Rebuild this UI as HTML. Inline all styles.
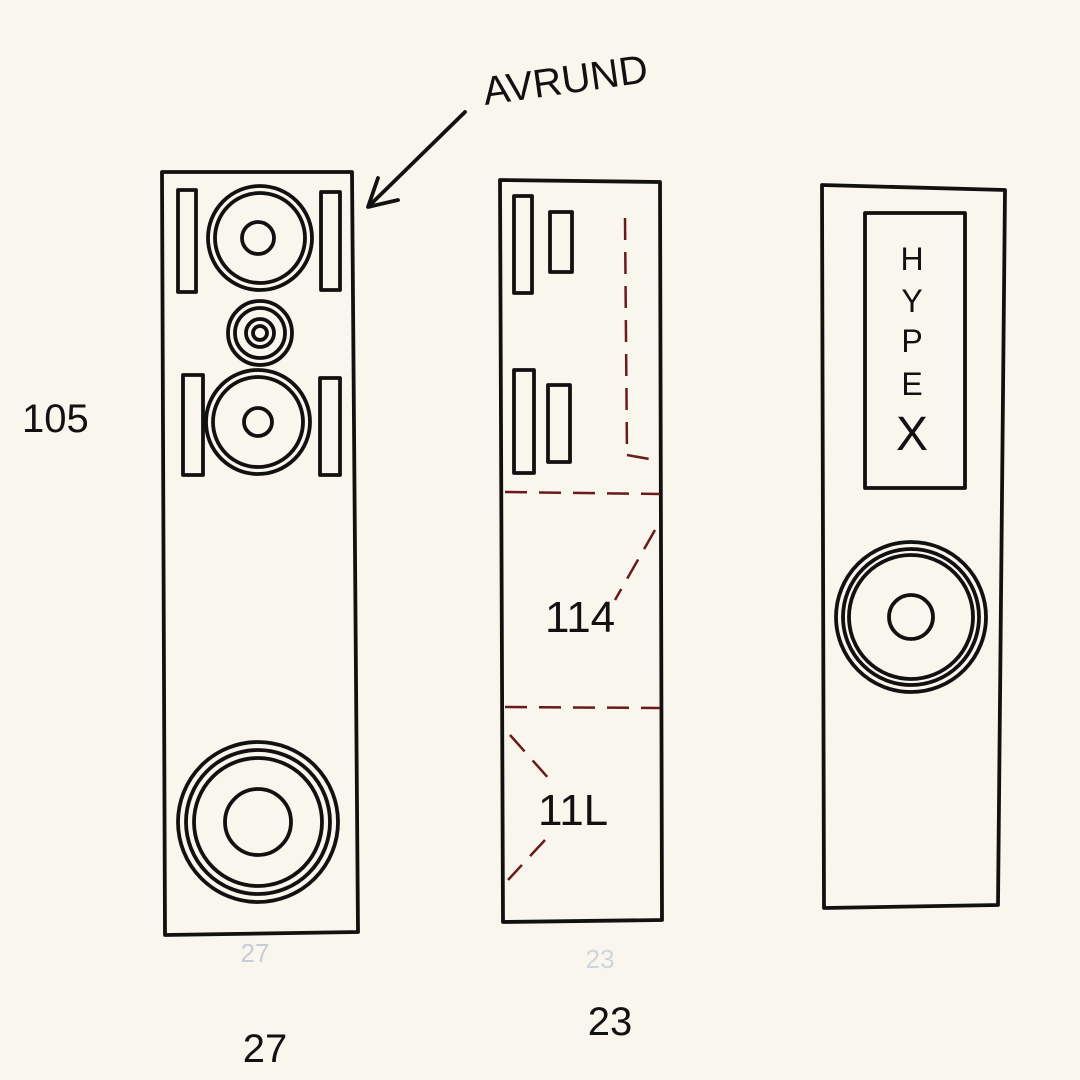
<!DOCTYPE html>
<html><head><meta charset="utf-8"><style>
html,body{margin:0;padding:0;background:#f9f7ed;}
svg{display:block}
text{font-family:"Liberation Sans",sans-serif;fill:#111}
</style></head><body>
<svg width="1080" height="1080" viewBox="0 0 1080 1080" xmlns="http://www.w3.org/2000/svg">
<rect width="1080" height="1080" fill="#f9f7ed"/>
<g fill="none" stroke="#111" stroke-width="3.8" stroke-linejoin="round" stroke-linecap="round">
<polygon points="162,172 352,172 358,932 165,935"/>
<rect x="178" y="190" width="18" height="102"/>
<rect x="321" y="192" width="19" height="98"/>
<circle cx="260" cy="238" r="52"/><circle cx="260" cy="238" r="45"/><circle cx="258" cy="238" r="16"/>
<circle cx="260" cy="333" r="32"/><circle cx="260" cy="333" r="25"/><circle cx="260" cy="333" r="14"/><circle cx="260" cy="333" r="7"/>
<rect x="183" y="375" width="20" height="100"/>
<rect x="320" y="378" width="20" height="97"/>
<circle cx="258" cy="422" r="52"/><circle cx="258" cy="422" r="45"/><circle cx="258" cy="422" r="14"/>
<circle cx="258" cy="822" r="80"/><circle cx="258" cy="822" r="72"/><circle cx="258" cy="822" r="64"/><circle cx="258" cy="822" r="33"/>
<polygon points="500,180 660,182 662,920 503,922"/>
<rect x="514" y="196" width="18" height="97"/>
<rect x="550" y="212" width="22" height="60"/>
<rect x="514" y="370" width="20" height="103"/>
<rect x="548" y="385" width="22" height="77"/>
<polygon points="822,185 1005,190 998,905 824,908"/>
<rect x="865" y="213" width="100" height="275"/>
<circle cx="911" cy="617" r="75"/><circle cx="911" cy="617" r="68"/><circle cx="911" cy="617" r="62"/><circle cx="911" cy="617" r="22"/>
<line x1="465" y1="112" x2="370" y2="205"/>
<polyline points="378,178 368,207 398,200"/>
</g>
<g fill="none" stroke="#6b1a1a" stroke-width="2.5" stroke-dasharray="22,12">
<line x1="505" y1="492" x2="660" y2="494"/>
<line x1="505" y1="707" x2="660" y2="708"/>
<line x1="625" y1="218" x2="627" y2="455"/>
<line x1="627" y1="455" x2="655" y2="460"/>
<line x1="655" y1="530" x2="615" y2="600"/>
<line x1="510" y1="735" x2="550" y2="780"/>
<line x1="545" y1="840" x2="508" y2="880"/>
</g>
<text x="485" y="105" font-size="40" transform="rotate(-8 485 105)">AVRUND</text>
<text x="22" y="432" font-size="40">105</text>
<text x="545" y="632" font-size="44">114</text>
<text x="538" y="825" font-size="44">11L</text>
<g font-size="32" text-anchor="middle">
<text x="912" y="270">H</text><text x="912" y="312">Y</text><text x="912" y="352">P</text><text x="912" y="395">E</text>
</g>
<text x="912" y="450" font-size="48" text-anchor="middle">X</text>
<text x="265" y="1062" font-size="40" text-anchor="middle">27</text>
<text x="610" y="1035" font-size="40" text-anchor="middle">23</text>
<text x="255" y="962" font-size="26" text-anchor="middle" style="fill:#c8ccd8">27</text>
<text x="600" y="968" font-size="26" text-anchor="middle" style="fill:#d0d4de">23</text>
</svg>
</body></html>
